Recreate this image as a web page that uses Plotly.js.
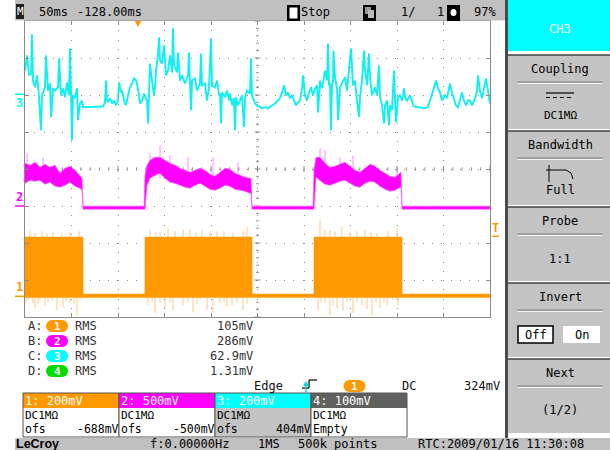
<!DOCTYPE html>
<html><head><meta charset="utf-8">
<script src="https://cdn.plot.ly/plotly-3.0.1.min.js"></script>
<style>html,body{margin:0;padding:0;background:#fff;overflow:hidden}#chart{width:610px;height:450px}</style>
</head><body><div id="chart"></div>
<script>
// ===== DATA (time in ms across 10 div x 50 ms; value in screen divisions) =====
const ch3T = [
 0,2.2,4.3,6.5,7.5,8.6,10.8,12.9,15.1,17.2,
 18.3,21.5,22.6,24.7,26.9,28.0,30.1,32.3,35.5,36.6,
 38.7,40.9,43.0,45.2,47.3,48.4,49.5,50.5,51.6,53.8,
 55.9,57.0,59.1,61.3,62.4,69.9,75.3,80.6,83.9,86.0,
 87.1,88.2,89.2,91.4,93.6,95.7,97.9,100.0,101.1,103.2,
 104.3,106.5,108.6,110.8,112.9,115.1,117.2,119.4,120.4,122.6,
 123.7,125.8,128.0,130.1,131.2,132.3,133.3,134.4,136.6,138.7,
 139.8,140.9,143.0,144.1,145.2,147.3,149.5,151.6,153.8,155.9,
 158.1,159.1,160.2,161.3,163.4,164.5,166.7,168.8,172.0,175.3,
 176.3,177.4,178.5,179.6,182.8,185.0,188.2,189.3,190.3,193.6,
 195.7,197.9,200.0,201.1,204.3,206.5,208.6,209.7,210.8,211.8,
 215.1,217.2,219.4,220.4,222.6,224.7,225.8,226.9,229.0,231.2,
 233.3,235.5,236.6,238.7,241.9,243.0,244.1,246.2,247.3,250.5,
 252.7,254.8,258.1,261.3,263.4,266.7,268.8,272.1,274.2,276.4,
 278.5,280.7,282.8,285.0,287.1,289.3,291.4,293.6,295.7,297.9,
 298.9,301.1,303.2,305.4,307.5,309.7,311.8,314.0,315.1,317.2,
 319.4,322.6,324.7,325.8,326.9,327.9,329.0,330.1,331.2,331.7,
 333.3,335.5,336.6,338.7,340.9,344.1,346.2,348.4,349.5,350.5,
 352.7,354.8,357.0,359.2,360.2,362.4,364.5,365.6,367.8,369.9,
 371.0,373.1,376.3,378.5,380.6,381.7,383.9,386.0,387.1,389.3,
 391.4,392.5,394.6,396.8,397.9,398.9,401.1,403.2,405.4,407.5,
 408.6,410.8,414.0,416.2,417.2,420.4,424.7,429.0,433.3,435.5,
 437.6,439.8,442.0,444.1,446.2,448.4,451.6,453.8,457.0,459.1,
 461.3,463.4,465.6,467.7,469.9,472.0,474.2,476.4,478.5,480.6,
 483.9,486.0,487.1,489.2,491.4,493.5,495.7,497.8,500.0];
const ch3V = [
 2.66,3.07,2.53,2.58,3.64,2.39,2.21,2.53,1.94,1.05,
 1.99,2.21,3.07,2.12,2.31,1.40,2.18,2.12,2.21,2.99,
 1.99,2.18,1.94,2.34,1.99,3.26,2.04,0.78,1.99,1.91,
 2.18,1.32,1.77,1.85,1.67,1.67,1.69,1.67,1.69,1.80,
 2.39,1.85,1.80,1.91,1.77,1.85,1.72,1.85,2.34,2.07,
 2.12,1.85,1.72,1.99,2.21,2.31,2.45,2.39,2.31,1.99,
 1.77,1.85,2.04,1.91,1.85,1.23,1.99,2.85,2.39,1.99,
 2.21,2.66,3.12,3.56,2.93,2.85,3.34,2.53,2.66,3.07,
 2.61,3.80,2.80,2.75,2.61,3.15,2.39,2.53,2.31,2.53,
 3.15,2.48,1.59,2.39,2.45,2.12,2.31,3.12,2.26,2.31,
 1.85,2.21,3.53,2.26,2.21,2.39,1.99,2.04,1.23,2.07,
 1.94,2.12,1.85,2.04,1.72,1.91,1.05,1.94,1.72,1.85,
 1.99,1.13,1.94,2.12,2.04,2.99,1.99,1.85,1.77,1.69,
 1.69,1.64,1.67,1.64,1.67,1.72,1.77,1.85,1.91,2.07,
 2.26,1.99,2.07,1.91,1.99,1.85,1.72,1.80,1.85,2.18,
 2.53,1.99,1.85,2.07,2.21,1.99,2.18,2.26,1.53,2.39,
 2.18,2.66,2.39,3.39,2.26,2.31,1.05,2.26,2.39,3.20,
 2.48,2.18,1.32,2.21,2.34,2.48,2.12,2.66,2.85,3.26,
 2.26,2.39,1.85,1.40,1.94,2.39,3.20,2.66,2.26,3.12,
 2.48,1.99,2.21,1.99,2.80,1.94,1.72,1.23,1.72,1.85,
 1.18,1.72,1.59,2.66,1.85,1.26,1.94,1.99,1.85,2.18,
 1.94,1.85,1.99,1.85,1.72,1.67,1.67,1.64,1.67,1.85,
 2.04,2.26,2.39,2.18,2.07,1.85,1.99,1.91,2.31,2.07,
 1.85,1.72,1.67,1.85,2.07,1.85,1.72,1.85,1.85,1.72,
 1.91,2.12,2.53,2.12,1.91,2.18,2.45,2.12,1.77];

// Channel 2 (magenta) noise band: upper / lower envelope
const ch2T = [
 0,5.4,10.8,16.1,21.5,26.9,32.3,37.6,43.0,48.4,53.8,59.1,61.3,62.4,
 128.0,129.0,131.2,134.4,139.8,145.2,150.5,155.9,161.3,166.7,172.0,177.4,182.8,188.2,193.6,198.9,204.3,209.7,215.1,220.4,225.8,231.2,236.6,241.9,243.0,244.1,
 309.7,310.8,312.9,317.2,322.6,327.9,333.3,338.7,344.1,349.5,354.8,360.2,365.6,371.0,376.3,381.7,387.1,392.5,397.9,403.2,404.3,405.4,
 500];
const ch2Hi = [
 0.155,0.101,0.182,0.047,0.128,0.047,0.101,-0.115,0.020,0.074,-0.034,-0.169,-0.250,-1.005,
 -1.005,-0.169,0.101,0.236,0.317,0.317,0.236,0.155,0.101,0.020,-0.034,-0.088,-0.034,0.020,-0.034,-0.142,-0.196,-0.088,0.020,-0.007,-0.115,-0.169,-0.223,-0.250,-0.250,-1.005,
 -1.005,-0.034,0.317,0.317,0.155,0.047,0.074,0.128,0.182,0.074,-0.034,-0.088,0.020,0.128,0.074,-0.034,-0.115,-0.196,-0.223,-0.088,-0.088,-1.005,
 -1.005];
const ch2Lo = [
 -0.385,-0.304,-0.331,-0.304,-0.412,-0.358,-0.466,-0.493,-0.439,-0.358,-0.466,-0.520,-0.574,-1.086,
 -1.086,-1.086,-0.439,-0.250,-0.169,-0.115,-0.250,-0.358,-0.385,-0.439,-0.493,-0.520,-0.439,-0.385,-0.466,-0.547,-0.574,-0.520,-0.439,-0.466,-0.547,-0.574,-0.601,-0.655,-0.655,-1.086,
 -1.086,-1.086,-0.223,-0.304,-0.412,-0.439,-0.385,-0.331,-0.304,-0.385,-0.466,-0.493,-0.385,-0.331,-0.358,-0.466,-0.547,-0.601,-0.574,-0.493,-0.493,-1.086,
 -1.086];
const ch2SpikeT = [2.2,19.4,134.4,145.2,155.9,175.3,202.2,229.0,317.2,322.6,338.7,352.7,400.0];
const ch2SpikeV = [0.43,0.32,0.43,0.64,0.37,0.32,0.32,0.18,0.56,0.51,0.32,0.37,0.05];

// Channel 1 (orange) burst envelope
const ch1T  = [0,62.4,62.5,128.9,129.0,244.1,244.2,310.7,310.8,405.4,405.5,500];
const ch1Hi = [-1.84,-1.84,-3.38,-3.38,-1.84,-1.84,-3.38,-3.38,-1.84,-1.84,-3.38,-3.38];
const ch1Lo = [-3.47,-3.47,-3.47,-3.47,-3.47,-3.47,-3.47,-3.47,-3.47,-3.47,-3.47,-3.47];
const ch1UpT = [5.4,10.8,18.3,23.7,30.1,39.8,48.4,58.1, 134.4,140.9,145.2,153.8,161.3,169.9,177.4,183.9,190.3,198.9,206.5,214.0,223.7,234.4,238.7, 317.2,322.6,327.9,333.3,340.9,349.5,357.0,365.6,372.0,378.5,390.3,400.0];
const ch1UpV = [-1.65,-1.73,-1.68,-1.73,-1.71,-1.73,-1.71,-1.68, -1.65,-1.71,-1.71,-1.60,-1.68,-1.63,-1.63,-1.71,-1.65,-1.68,-1.68,-1.68,-1.71,-1.65,-1.57, -1.38,-1.63,-1.65,-1.68,-1.57,-1.71,-1.68,-1.63,-1.71,-1.73,-1.68,-1.60];
const ch1DnT = [1.1,3.2,8.6,10.8,14.0,16.1,21.5,24.7,29.0,34.4,40.9,44.1,48.4,52.7,55.9,59.1,
 132.3,136.6,139.8,145.2,150.5,155.9,159.1,169.9,175.3,180.7,185.0,188.2,195.7,202.2,209.7,214.0,217.2,222.6,228.0,234.4,238.7,
 315.1,318.3,322.6,327.9,331.2,335.5,341.9,346.2,352.7,357.0,362.4,367.8,373.1,377.4,381.7,386.0,389.3,395.7,401.1];
const ch1DnV = [-3.60,-3.54,-3.62,-3.76,-3.65,-3.54,-3.68,-3.60,-3.54,-3.81,-3.73,-3.57,-3.62,-3.65,-3.95,-3.54,
 -3.68,-3.57,-3.89,-3.62,-3.76,-3.62,-3.81,-3.68,-3.60,-3.87,-3.65,-3.54,-3.81,-3.89,-3.62,-3.60,-3.73,-3.68,-3.60,-3.81,-3.65,
 -3.81,-3.60,-3.62,-3.95,-3.68,-3.76,-3.84,-3.62,-3.89,-3.60,-3.68,-3.79,-3.95,-3.62,-3.76,-3.60,-3.68,-3.54,-3.68];

// Channel settings and readouts
const chNames   = ['1','2','3','4'];
const chScales  = ['200mV','500mV','200mV','100mV'];
const chScaleMv = [200,500,200,100];
const chOffsetMv= [-688,-500,404,null];
const chOffsetTx= ['-688mV','-500mV','404mV',''];
const measLetters = ['A:','B:','C:','D:'];
const measValues  = ['105mV','286mV','62.9mV','1.31mV'];
const trigLevelMv = 324;
const trigTime = 121.5;

// ===== PRESENTATION =====
const MONO = 'DejaVu Sans Mono, monospace';
const COL = {o:'#ff9900', m:'#ff00ff', c:'#00ffff', g:'#00dd00', d:'#606060'};
const chColors = [COL.o, COL.m, COL.c, COL.d];
const pillColors = [COL.o, COL.m, COL.c, COL.g];
const PL=25, PR=490, PT=21, PB=317;
const px = v => (v-PL)/(PR-PL);
const py = v => (PB-v)/(PB-PT);
const shapes=[], ann=[];
function rect(x0,y0,x1,y1,fill,lc,lw,type){shapes.push({type:type||'rect',xref:'paper',yref:'paper',x0:px(x0),x1:px(x1),y0:py(y1),y1:py(y0),fillcolor:fill||'rgba(0,0,0,0)',line:{color:lc||'rgba(0,0,0,0)',width:lc?(lw||1):0},layer:'above'});}
function line(x0,y0,x1,y1,c,w,dash){shapes.push({type:'line',xref:'paper',yref:'paper',x0:px(x0),x1:px(x1),y0:py(y0),y1:py(y1),line:{color:c,width:w||1,dash:dash||'solid'},layer:'above'});}
function txt(x,y,s,o){o=o||{};ann.push({xref:'paper',yref:'paper',x:px(x),y:py(y),text:s,showarrow:false,xanchor:o.a||'left',yanchor:o.ya||'middle',borderpad:0,borderwidth:0,font:{family:o.f||MONO,size:o.s||12,color:o.c||'#000'}});}
function pill(cx,cy,color,label){
  rect(cx-11,cy-6,cx+1,cy+6,color,null,0,'circle');
  rect(cx-1,cy-6,cx+11,cy+6,color,null,0,'circle');
  rect(cx-5,cy-6,cx+5,cy+6,color);
  txt(cx,cy,'<b>'+label+'</b>',{a:'center',c:'#fff',s:11});
}

// --- graticule extras: center-line ticks ---
for(let k=0;k<=40;k++){const y=-4+0.2*k;const h=(k%5===0)?3.2:1.6;
  shapes.push({type:'line',xref:'x',yref:'y',x0:250-h,x1:250+h,y0:y,y1:y,line:{color:'#909090',width:1},layer:'below'});}
for(let k=0;k<=50;k++){const x=10*k;const h=(k%5===0)?0.085:0.045;
  shapes.push({type:'line',xref:'x',yref:'y',x0:x,x1:x,y0:-h,y1:h,line:{color:'#909090',width:1},layer:'below'});}

// trigger position marker (top)
shapes.push({type:'path',xref:'x',yref:'paper',path:`M ${trigTime-3.5},1 L ${trigTime+3.5},1 L ${trigTime},${1-6/296} Z`,fillcolor:COL.o,line:{width:0},layer:'above'});

// channel ground-level markers (left)
const levelOf = i => chOffsetMv[i]/chScaleMv[i];
const markerDy = [9,9,-9];
for(let i=0;i<3;i++){
  const lv = levelOf(i);
  shapes.push({type:'line',xref:'paper',yref:'y',x0:px(15),x1:px(24),y0:lv,y1:lv,line:{color:chColors[i],width:1.5},layer:'above'});
  ann.push({xref:'paper',yref:'y',x:px(19.5),y:lv,yshift:markerDy[i],text:'<b>'+chNames[i]+'</b>',showarrow:false,xanchor:'center',yanchor:'middle',borderpad:0,borderwidth:0,font:{family:MONO,size:12,color:chColors[i]}});
}
// trigger level marker (right)
const trigLv = levelOf(0) + trigLevelMv/chScaleMv[0];
shapes.push({type:'line',xref:'paper',yref:'y',x0:px(492),x1:px(499),y0:trigLv,y1:trigLv,line:{color:COL.o,width:1.5},layer:'above'});
ann.push({xref:'paper',yref:'y',x:px(495.5),y:trigLv,yshift:8,text:'<b>T</b>',showarrow:false,xanchor:'center',yanchor:'middle',borderpad:0,borderwidth:0,font:{family:MONO,size:12,color:COL.o}});

// --- top status bar ---
rect(15,0,506,20.5,'#c0c0c0');
rect(16,4,24,19,'#202020'); txt(20,11.5,'M',{a:'center',c:'#fff',s:11});
txt(39,12,'50ms'); txt(77,12,'-128.00ms');
rect(287,5,300,21,'#000'); rect(289.5,7.5,297.5,18.5,'#fff'); txt(301,12,'Stop');
rect(363,5,376,21,'#000'); rect(365,7,371,14,'#999'); rect(368,10,374,18,'#bbb');
txt(401,12,'1/'); txt(437,12,'1');
rect(447,5,460,21,'#000'); rect(450.5,9,456.5,16,'#fff',null,0,'circle');
txt(474,12,'97%');

// --- right soft-key panel ---
rect(505,0,508,441,'#4a4a4a');
rect(508,0,610,51,COL.c); txt(560,29,'CH3',{a:'center',c:'#fff'});
const btnTops=[55,131,207,283,359];
const btnTitles=['Coupling','Bandwidth','Probe','Invert','Next'];
btnTops.forEach((t,i)=>{
  rect(508,t,610,t+74,'#c4c4c4');
  line(508,t,610,t,'#404040',1.5);
  txt(560,t+14,btnTitles[i],{a:'center'});
  line(517,t+27,603,t+27,'#7a7a7a',1); line(517,t+28.5,603,t+28.5,'#f4f4f4',1);
});
// Coupling
line(546,93,574,93,'#000',1.2); line(546,97.5,574,97.5,'#000',1.2,'4px,3px'); txt(560,115,'DC1MΩ',{a:'center',s:11});
// Bandwidth
line(549,165,549,182,'#000',1); line(546,170,566,170,'#000',1); line(566,170,571,173,'#000',1); line(571,173,573,179,'#000',1);
txt(560,190,'Full',{a:'center'});
// Probe
txt(560,259,'1:1',{a:'center'});
// Invert
rect(518,326,553,343,'#fff','#000',1.5); txt(535.5,334.5,'Off',{a:'center'});
rect(563,326,600,343,'#fff'); txt(581.5,334.5,'On',{a:'center'});
// Next
txt(560,410,'(1/2)',{a:'center'});

// --- measurement readouts ---
const rowsY=[326,341,356,371];
rowsY.forEach((y,i)=>{
  txt(28,y,measLetters[i],{c:'#333'});
  pill(57,y,pillColors[i],chNames[i]);
  txt(75,y,'RMS',{c:'#333'});
  txt(253,y,measValues[i],{a:'right',c:'#333'});
});
// trigger readout
txt(254,386,'Edge',{c:'#111'});
line(302,388,309,388,'#000',1.2); line(309,388,309,380,'#000',1.2); line(309,380,317,380,'#000',1.2);
shapes.push({type:'path',xref:'paper',yref:'paper',path:`M ${px(303)},${py(386)} L ${px(309)},${py(386)} L ${px(306)},${py(381)} Z`,fillcolor:'#00d8e8',line:{width:0},layer:'above'});
line(306,386,306,392,'#00d8e8',1.5);
pill(354.5,386,COL.o,chNames[0]);
txt(402,386,'DC',{c:'#111'});
txt(500,386,trigLevelMv+'mV',{a:'right',c:'#111'});

// --- channel setting boxes ---
const bx=[23,119,215,311,407];
const bodyFill=['#fff','#fff','#c4c4c4','#fff'];
for(let i=0;i<4;i++){
  const x0=bx[i],x1=bx[i+1];
  rect(x0,393,x1,408,chColors[i]);
  rect(x0,408,x1,437,bodyFill[i]);
  rect(x0,393,x1,437,null,'#555',1);
  txt(x0+1.5,400.5,chNames[i]+': '+chScales[i],{c:'#fff'});
  txt(x0+1.5,415.5,'DC1MΩ',{s:11});
  if(chOffsetMv[i]!==null){ txt(x0+1.5,428.5,'ofs',{s:11.5}); txt(x1-0.5,428.5,chOffsetTx[i],{a:'right',s:11.5}); }
  else { txt(x0+1.5,428.5,'Empty',{s:11.5}); }
}

// --- bottom status bar ---
rect(15,438,610,450,'#c0c0c0');
txt(16,451,'<b>LeCroy</b>',{f:'Liberation Sans, Arial, sans-serif',s:12.5,ya:'bottom'});
txt(150,451,'f:0.00000Hz',{ya:'bottom'}); txt(258,451,'1MS',{ya:'bottom'}); txt(298,451,'500k points',{ya:'bottom'});
txt(418,451,'RTC:2009/01/16 11:30:08',{ya:'bottom'});

// ===== TRACES =====
function spikes(T,V,base){const x=[],y=[];T.forEach((t,i)=>{x.push(t,t,null);y.push(base,V[i],null);});return {x,y};}
const burstTop = Math.max(...ch1Hi), burstBot = Math.min(...ch1Lo);
const up = spikes(ch1UpT,ch1UpV,burstTop), dn = spikes(ch1DnT,ch1DnV,burstBot);
const m2 = spikes(ch2SpikeT,ch2SpikeV,-0.25);
const poly = (T,Hi,Lo)=>({x:T.concat(T.slice().reverse()), y:Hi.concat(Lo.slice().reverse())});
const p1 = poly(ch1T,ch1Hi,ch1Lo), p2 = poly(ch2T,ch2Hi,ch2Lo);

const traces = [
  {x:up.x,y:up.y,mode:'lines',line:{color:'rgba(255,165,50,0.6)',width:1},hoverinfo:'skip'},
  {x:dn.x,y:dn.y,mode:'lines',line:{color:'rgba(255,165,50,0.6)',width:1},hoverinfo:'skip'},
  {x:p1.x,y:p1.y,mode:'lines',fill:'toself',fillcolor:COL.o,line:{color:COL.o,width:0.5},hoverinfo:'skip'},
  {x:m2.x,y:m2.y,mode:'lines',line:{color:'rgba(255,60,255,0.6)',width:1},hoverinfo:'skip'},
  {x:p2.x,y:p2.y,mode:'lines',fill:'toself',fillcolor:COL.m,line:{color:'rgba(255,90,255,0.7)',width:1},hoverinfo:'skip'},
  {x:ch3T,y:ch3V,mode:'lines',line:{color:'#10f0f0',width:1.9},hoverinfo:'skip'}
];

const grid = {showgrid:true,gridcolor:'#8a8a8a',gridwidth:1,griddash:'1px,8.25px',zeroline:false,
  showticklabels:false,ticks:'inside',ticklen:4,tickcolor:'#8a8a8a',showline:true,linecolor:'#8a8a8a',linewidth:1,mirror:'ticks',fixedrange:true};
const layout = {
  width:610,height:450,autosize:false,showlegend:false,
  margin:{l:PL,r:610-PR,t:PT,b:450-PB,pad:0},
  paper_bgcolor:'#fff',plot_bgcolor:'#fff',
  xaxis:Object.assign({range:[0,500],tick0:0,dtick:50},grid),
  yaxis:Object.assign({range:[-4,4],tick0:-4,dtick:1},grid),
  shapes:shapes,annotations:ann
};
Plotly.newPlot('chart',traces,layout,{staticPlot:true,displayModeBar:false});
</script></body></html>
